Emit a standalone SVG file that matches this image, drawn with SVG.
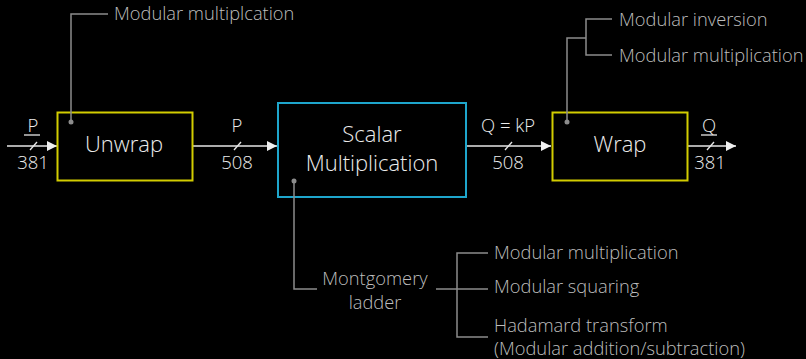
<svg xmlns="http://www.w3.org/2000/svg" width="806" height="359" viewBox="0 0 806 359">
<defs>
<marker id="ah" viewBox="0 0 10 10" refX="10" refY="5" markerWidth="10" markerHeight="10" markerUnits="userSpaceOnUse" orient="auto">
<path d="M0,0 L10,5 L0,10 z" fill="#f0f0f0"/>
</marker>
<style>
.box-y{fill:#000;stroke:#d2cc00;stroke-width:2}
.box-b{fill:#000;stroke:#1ea6cc;stroke-width:2}
.bt{font-family:"Open Sans","Liberation Sans",sans-serif;font-size:22px;font-weight:300;fill:#ececec;text-anchor:middle}
.lbl{font-family:"Open Sans","Liberation Sans",sans-serif;font-size:18.3px;font-weight:300;fill:#bdbdbd}
.sig{font-family:"Open Sans","Liberation Sans",sans-serif;font-size:18.5px;font-weight:300;fill:#ececec;text-anchor:middle}
.lead{fill:none;stroke:#8c8c8c;stroke-width:1.5}
.arr{fill:none;stroke:#e6e6e6;stroke-width:1.5;marker-end:url(#ah)}
.sl{stroke:#e6e6e6;stroke-width:1.3}
.dot{fill:#8c8c8c}
</style>
</defs>
<rect width="806" height="359" fill="#000"/>

<g id="connectors">
<line class="arr" x1="7" y1="146" x2="57" y2="146"/>
<line class="sl" x1="30" y1="150" x2="37" y2="142"/>
<line class="arr" x1="192" y1="146" x2="277" y2="146"/>
<line class="sl" x1="234" y1="150" x2="241" y2="142"/>
<line class="arr" x1="466" y1="146" x2="551" y2="146"/>
<line class="sl" x1="505" y1="150" x2="512" y2="142"/>
<line class="arr" x1="687" y1="146" x2="736" y2="146"/>
<line class="sl" x1="707" y1="150" x2="714" y2="142"/>
<text class="sig" x="33" y="132">P</text>
<line x1="24" y1="135" x2="40" y2="135" stroke="#e6e6e6" stroke-width="1.3"/>
<text class="sig" x="33" y="169">381</text>
<text class="sig" x="237" y="132">P</text>
<text class="sig" x="237" y="169">508</text>
<text class="sig" x="508" y="132">Q = kP</text>
<text class="sig" x="508" y="169">508</text>
<text class="sig" x="709" y="132">Q</text>
<line x1="701" y1="135" x2="717" y2="135" stroke="#e6e6e6" stroke-width="1.3"/>
<text class="sig" x="710" y="169">381</text>
</g>

<g id="unwrap">
<rect class="box-y" x="57.5" y="112.5" width="135" height="68"/>
<text class="bt" x="124" y="152">Unwrap</text>
<circle class="dot" cx="71" cy="122" r="2.5"/>
<polyline class="lead" points="71,122 71,14 108,14"/>
<text class="lbl" x="114" y="20">Modular multiplcation</text>
</g>

<g id="scalar">
<rect class="box-b" x="278" y="103" width="188" height="94"/>
<text class="bt" x="372" y="142">Scalar</text>
<text class="bt" x="372" y="171">Multiplication</text>
<circle class="dot" cx="294" cy="181" r="2.5"/>
<polyline class="lead" points="294,181 294,289 317,289"/>
<text class="lbl" x="375" y="285" text-anchor="middle">Montgomery</text>
<text class="lbl" x="375" y="309" text-anchor="middle">ladder</text>
<line class="lead" x1="436" y1="289" x2="488" y2="289"/>
<polyline class="lead" points="488,253 457,253 457,337 488,337"/>
<text class="lbl" x="494" y="259">Modular multiplication</text>
<text class="lbl" x="494" y="293">Modular squaring</text>
<text class="lbl" x="494" y="332">Hadamard transform</text>
<text class="lbl" x="494" y="355">(Modular addition/subtraction)</text>
</g>

<g id="wrap">
<rect class="box-y" x="552.5" y="112.5" width="135" height="68"/>
<text class="bt" x="620" y="152">Wrap</text>
<circle class="dot" cx="567" cy="122" r="2.5"/>
<polyline class="lead" points="567,122 567,38 586,38"/>
<polyline class="lead" points="612,19 586,19 586,55 612,55"/>
<text class="lbl" x="619" y="26">Modular inversion</text>
<text class="lbl" x="619" y="62">Modular multiplication</text>
</g>
</svg>
